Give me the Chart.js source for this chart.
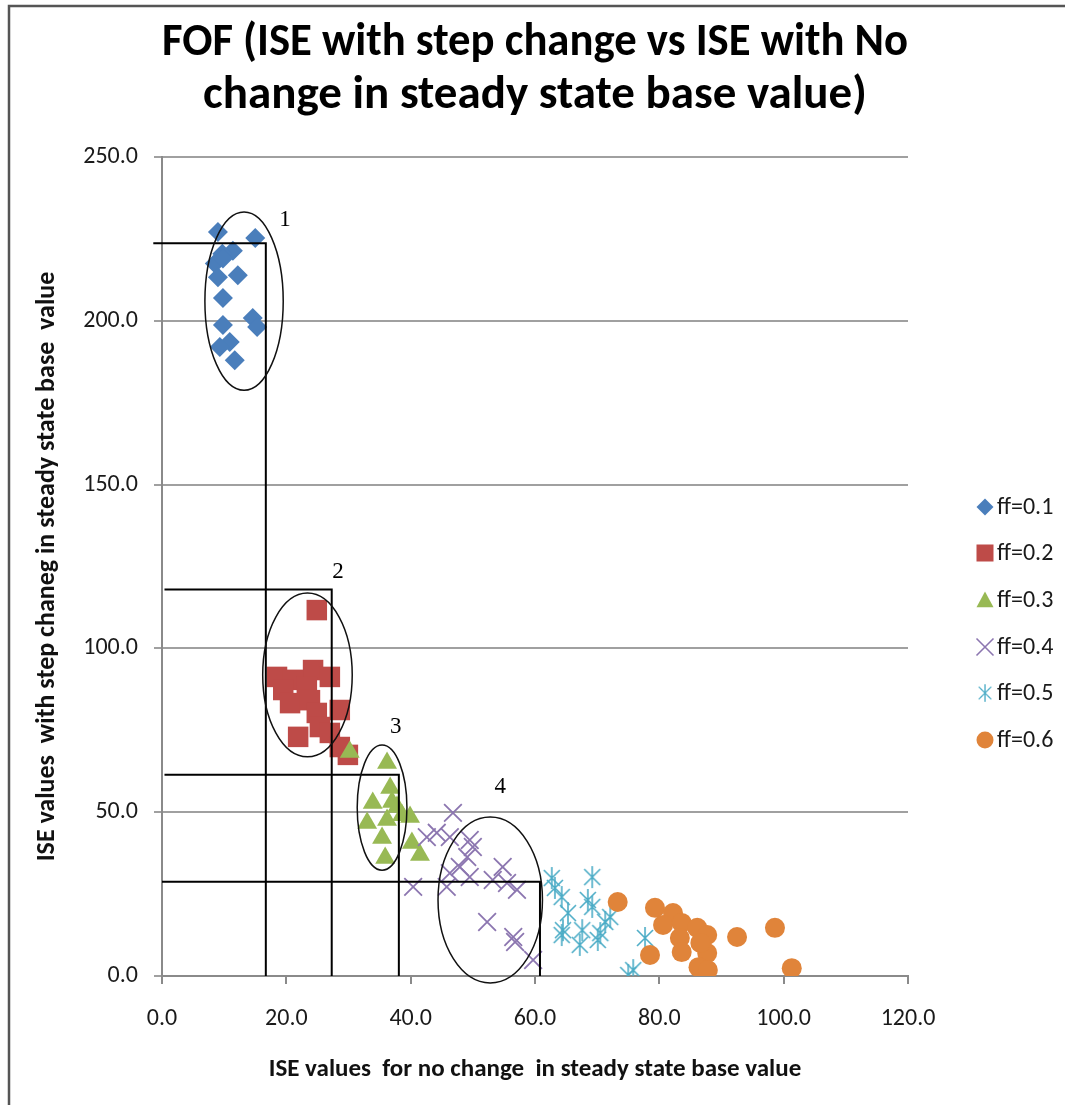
<!DOCTYPE html>
<html>
<head>
<meta charset="utf-8">
<style>
  html, body { margin: 0; padding: 0; background: #fff; }
  #wrap { width: 1065px; height: 1105px; }
</style>
<script src="https://cdn.jsdelivr.net/npm/chart.js@4.4.1/dist/chart.umd.min.js"></script>
</head>
<body>
<div id="wrap"><canvas id="fof" width="1065" height="1105"></canvas></div>
<script>
// series values
const seriesNames = ['ff=0.1', 'ff=0.2', 'ff=0.3', 'ff=0.4', 'ff=0.5', 'ff=0.6'];

const ff1x = [9.0, 15.0, 11.4, 9.7, 8.5, 9.8, 12.2, 9.0, 9.8, 14.6, 15.3, 9.8, 10.9, 9.3, 11.7];
const ff1y = [227.1, 225.3, 221.4, 220.5, 217.5, 219.0, 213.9, 213.3, 207.0, 200.9, 198.1, 198.7, 193.5, 192.0, 188.0];

const ff2x = [24.9, 24.3, 18.5, 27.0, 21.1, 19.5, 23.3, 20.6, 23.8, 28.6, 24.9, 25.4, 21.9, 27.0, 28.6, 29.9];
const ff2y = [111.7, 93.4, 91.3, 91.3, 90.4, 87.3, 88.2, 83.3, 84.2, 81.2, 80.3, 76.0, 73.0, 74.2, 69.9, 67.5];

const ff3x = [30.2, 36.2, 36.7, 33.9, 37.0, 38.6, 33.0, 36.2, 35.4, 40.2, 35.9, 37.8, 39.9, 41.5];
const ff3y = [68.4, 65.0, 57.4, 52.8, 53.1, 49.1, 46.7, 47.6, 42.1, 40.6, 36.0, 51.6, 48.5, 36.9];

const ff4x = [46.8, 42.6, 44.2, 46.3, 49.5, 50.0, 49.1, 47.9, 46.3, 54.8, 40.4, 45.8, 49.5, 53.2, 55.5, 57.1, 52.3, 56.5, 56.8, 59.7];
const ff4y = [49.8, 42.4, 43.7, 42.4, 41.5, 39.4, 36.3, 33.3, 31.4, 33.3, 27.2, 27.2, 30.2, 29.3, 28.4, 26.3, 16.5, 11.9, 10.4, 4.9];

const ff5x = [62.7, 69.2, 63.2, 64.3, 68.5, 69.2, 65.3, 72.1, 71.3, 64.5, 67.6, 70.5, 64.3, 67.2, 70.1, 77.7, 75.8, 75.0];
const ff5y = [29.9, 30.2, 26.9, 24.1, 23.2, 21.1, 19.2, 18.0, 16.5, 14.0, 14.0, 13.1, 12.5, 9.5, 11.0, 11.6, 1.8, 0.3];

const ff6x = [73.3, 79.3, 82.2, 80.6, 83.6, 86.1, 87.7, 83.3, 92.5, 98.6, 78.5, 83.6, 87.7, 86.6, 86.3, 87.8, 101.3];
const ff6y = [22.6, 20.8, 19.2, 15.6, 16.2, 14.7, 12.5, 11.6, 11.9, 14.7, 6.4, 7.3, 7.0, 10.1, 2.7, 1.8, 2.4];

// guide lines: horizontal at guideLevel from guideStart to guideEnd, then down to 0
const guideLevel = [223.7, 118.0, 61.4, 28.8];
const guideStart = [-1.4, 0.4, 0.4, 0];
const guideEnd = [16.7, 27.3, 38.1, 60.8];

// ellipses around the clusters (data units)
const ellipseX = [13.2, 23.4, 35.4, 52.8];
const ellipseY = [206.0, 91.9, 51.4, 23.2];
const ellipseRx = [6.3, 7.2, 4.0, 8.4];
const ellipseRy = [27.2, 25.0, 19.1, 25.3];

const clusterLabels = ['1', '2', '3', '4'];
const labelX = [19.8, 28.3, 37.6, 54.4];
const labelY = [230.8, 123.3, 76.0, 57.7];

const xTicks = [0, 20, 40, 60, 80, 100, 120];
const yTicks = [0, 50, 100, 150, 200, 250];

const FONT = 'Carlito, Lato, "Open Sans", sans-serif';

function pts(xs, ys) {
    const out = [];
    for (let i = 0; i < xs.length; i++) {
        out.push({x: xs[i], y: ys[i]});
    }
    return out;
}

// excel style asterisk marker (X with a vertical bar)
function makeAsterisk(color) {
    const c = document.createElement('canvas');
    c.width = 24; c.height = 24;
    const g = c.getContext('2d');
    g.strokeStyle = color;
    g.lineWidth = 1.6;
    g.beginPath();
    g.moveTo(12, 1); g.lineTo(12, 23);
    g.moveTo(4, 4); g.lineTo(20, 20);
    g.moveTo(20, 4); g.lineTo(4, 20);
    g.stroke();
    return c;
}
const asterisk = makeAsterisk('#4bacc6');

const styles = [
    {pointStyle: 'rectRot', pointRadius: 10, backgroundColor: '#4a7ebb', borderColor: '#4a7ebb', borderWidth: 0},
    {pointStyle: 'rect', pointRadius: 14.5, backgroundColor: '#be4b48', borderColor: '#be4b48', borderWidth: 0},
    {pointStyle: 'triangle', pointRadius: 11.5, backgroundColor: '#98b954', borderColor: '#98b954', borderWidth: 0},
    {pointStyle: 'crossRot', pointRadius: 12.5, backgroundColor: '#8c76b0', borderColor: '#8c76b0', borderWidth: 1.8},
    {pointStyle: asterisk, pointRadius: 12, backgroundColor: '#4bacc6', borderColor: '#4bacc6', borderWidth: 0},
    {pointStyle: 'circle', pointRadius: 10, backgroundColor: '#e0843a', borderColor: '#e0843a', borderWidth: 0}
];

const seriesX = [ff1x, ff2x, ff3x, ff4x, ff5x, ff6x];
const seriesY = [ff1y, ff2y, ff3y, ff4y, ff5y, ff6y];

const datasets = [];
for (let i = 0; i < seriesNames.length; i++) {
    datasets.push(Object.assign({
        label: seriesNames[i],
        data: pts(seriesX[i], seriesY[i]),
        order: 10 - i,
        pointHoverRadius: styles[i].pointRadius
    }, styles[i]));
}
for (let i = 0; i < guideLevel.length; i++) {
    datasets.push({
        label: 'guide' + (i + 1),
        data: [{x: guideStart[i], y: guideLevel[i]}, {x: guideEnd[i], y: guideLevel[i]}, {x: guideEnd[i], y: 0}],
        showLine: true,
        borderColor: '#000',
        borderWidth: 2,
        pointRadius: 0,
        clip: false,
        order: 0
    });
}

const framePlugin = {
    id: 'frame',
    beforeDraw(chart) {
        const c = chart.ctx;
        c.save();
        c.fillStyle = '#fff';
        c.fillRect(0, 0, chart.width, chart.height);
        c.strokeStyle = '#555';
        c.lineWidth = 2.5;
        c.beginPath();
        c.moveTo(9, chart.height);
        c.lineTo(9, 6);
        c.lineTo(chart.width, 6);
        c.stroke();
        c.restore();
    }
};

const ellipsePlugin = {
    id: 'ellipses',
    afterDatasetsDraw(chart) {
        const c = chart.ctx;
        const xs = chart.scales.x, ys = chart.scales.y;
        c.save();
        c.strokeStyle = '#111';
        c.lineWidth = 1.5;
        for (let i = 0; i < ellipseX.length; i++) {
            const cx = xs.getPixelForValue(ellipseX[i]);
            const cy = ys.getPixelForValue(ellipseY[i]);
            const rx = xs.getPixelForValue(ellipseX[i] + ellipseRx[i]) - cx;
            const ry = cy - ys.getPixelForValue(ellipseY[i] + ellipseRy[i]);
            c.beginPath();
            c.ellipse(cx, cy, rx, ry, 0, 0, Math.PI * 2);
            c.stroke();
        }
        c.fillStyle = '#000';
        c.font = '23px "Liberation Serif", "Times New Roman", serif';
        c.textAlign = 'center';
        c.textBaseline = 'middle';
        for (let i = 0; i < clusterLabels.length; i++) {
            c.fillText(clusterLabels[i], xs.getPixelForValue(labelX[i]), ys.getPixelForValue(labelY[i]));
        }
        c.restore();
    }
};

function drawMarker(c, st, x, y, r) {
    c.save();
    c.fillStyle = st.backgroundColor;
    c.strokeStyle = st.borderColor;
    c.beginPath();
    if (st.pointStyle === 'rectRot') {
        c.moveTo(x, y - r); c.lineTo(x + r, y); c.lineTo(x, y + r); c.lineTo(x - r, y); c.closePath(); c.fill();
    } else if (st.pointStyle === 'rect') {
        c.fillRect(x - r, y - r, 2 * r, 2 * r);
    } else if (st.pointStyle === 'triangle') {
        c.moveTo(x, y - r); c.lineTo(x + r, y + r * 0.85); c.lineTo(x - r, y + r * 0.85); c.closePath(); c.fill();
    } else if (st.pointStyle === 'crossRot') {
        c.lineWidth = 1.6;
        c.moveTo(x - r, y - r); c.lineTo(x + r, y + r); c.moveTo(x + r, y - r); c.lineTo(x - r, y + r); c.stroke();
    } else if (st.pointStyle === 'circle') {
        c.arc(x, y, r, 0, Math.PI * 2); c.fill();
    } else {
        c.drawImage(st.pointStyle, x - r - 1, y - r - 1, 2 * r + 2, 2 * r + 2);
    }
    c.restore();
}

const legendY = [507, 553, 600, 647, 693, 740];
const legendPlugin = {
    id: 'sideLegend',
    afterDraw(chart) {
        const c = chart.ctx;
        c.save();
        c.font = '24px ' + FONT;
        c.fillStyle = '#1a1a1a';
        c.textBaseline = 'middle';
        c.textAlign = 'left';
        for (let i = 0; i < seriesNames.length; i++) {
            drawMarker(c, styles[i], 985, legendY[i], 8.5);
            c.fillText(seriesNames[i], 997, legendY[i] + 1);
        }
        c.restore();
    }
};

const ctx = document.getElementById('fof');

new Chart(ctx, {
    type: 'scatter',
    data: { datasets: datasets },
    options: {
        responsive: false,
        animation: false,
        events: [],
        layout: { padding: { left: 0, right: 157, top: 0, bottom: 0 } },
        plugins: {
            legend: { display: false },
            tooltip: { enabled: false },
            title: {
                display: true,
                fullSize: false,
                text: ['FOF (ISE with step change vs ISE with No', 'change in steady state base value)'],
                color: '#000',
                font: { family: FONT, size: 47, weight: 'bold', lineHeight: 1.128 },
                padding: { top: 17, bottom: 34 }
            }
        },
        scales: {
            x: {
                type: 'linear',
                min: 0,
                max: 120,
                afterBuildTicks: s => { s.ticks = xTicks.map(v => ({value: v})); },
                afterFit: s => { s.height = 129; },
                ticks: {
                    callback: v => v.toFixed(1),
                    color: '#1a1a1a',
                    font: { family: FONT, size: 24 },
                    padding: 21,
                    maxRotation: 0
                },
                grid: { drawOnChartArea: false, drawTicks: true, tickLength: 8, color: '#8a8a8a', lineWidth: 2 },
                border: { color: '#8a8a8a', width: 2 },
                title: {
                    display: true,
                    text: 'ISE values  for no change  in steady state base value',
                    color: '#111',
                    font: { family: FONT, size: 25, weight: 'bold' },
                    padding: { top: 0, bottom: 20 }
                }
            },
            y: {
                type: 'linear',
                min: 0,
                max: 250,
                afterBuildTicks: s => { s.ticks = yTicks.map(v => ({value: v})); },
                afterFit: s => { s.width = 162; },
                ticks: {
                    callback: v => v.toFixed(1),
                    color: '#1a1a1a',
                    font: { family: FONT, size: 24 },
                    padding: 16
                },
                grid: { color: '#a0a0a0', lineWidth: 2, tickLength: 8, drawTicks: true },
                border: { color: '#8a8a8a', width: 2 },
                title: {
                    display: true,
                    text: 'ISE values  with step chaneg in steady state base  value',
                    color: '#111',
                    font: { family: FONT, size: 26, weight: 'bold' },
                    padding: { top: 32, bottom: 0 }
                }
            }
        }
    },
    plugins: [framePlugin, ellipsePlugin, legendPlugin]
});
</script>
</body>
</html>
